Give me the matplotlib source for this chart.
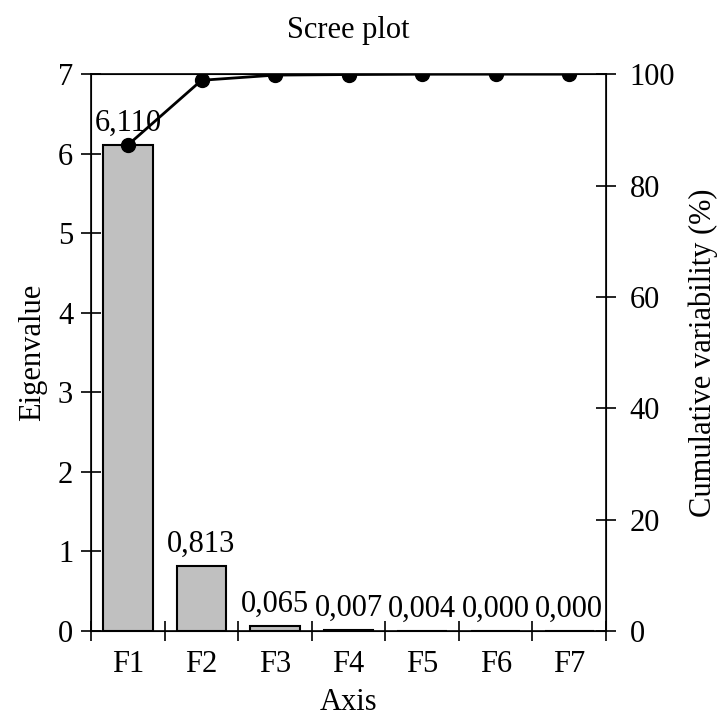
import matplotlib
matplotlib.use("Agg")
import matplotlib.pyplot as plt
import numpy as np

categories = ["F1", "F2", "F3", "F4", "F5", "F6", "F7"]
eigenvalues = [6.110, 0.813, 0.065, 0.007, 0.004, 0.000, 0.000]
cumulative = [87.29, 98.90, 99.83, 99.93, 99.99, 100.0, 100.0]

plt.rcParams['font.family'] = ['Liberation Serif', 'DejaVu Serif']
fs = 22

fig = plt.figure(figsize=(7.18, 7.2), dpi=100)
ax = fig.add_axes([0.127, 0.1236, 0.717, 0.7734])
x = np.arange(len(categories))
ax.bar(x, eigenvalues, width=0.67, color="#c0c0c0", edgecolor="black", linewidth=1.5, zorder=2)
for xi, v in zip(x, eigenvalues):
    ax.text(xi, v + 0.09, f"{v:.3f}".replace(".", ","), ha="center", va="bottom", fontsize=fs)
ax.set_xlim(-0.5, len(categories) - 0.5)
ax.set_ylim(0, 7)
ax.set_yticks(range(0, 8))
ax.set_xticks(x)
ax.set_xticklabels(categories)
ax.set_xticks(np.arange(-0.5, len(categories)), minor=True)
ax.tick_params(axis="x", which="major", length=0, labelsize=fs, pad=14)
ax.tick_params(axis="x", which="minor", direction="inout", length=14, width=1.2)
ax.tick_params(axis="y", direction="inout", length=14, width=1.2, labelsize=fs, pad=6)
ax.set_xlabel("Axis", fontsize=fs, labelpad=6)
ax.set_ylabel("Eigenvalue", fontsize=fs, labelpad=8)
ax.set_title("Scree plot", fontsize=fs, pad=26)
for s in ax.spines.values():
    s.set_linewidth(1.2)

ax2 = ax.twinx()
ax2.plot(x, cumulative, color="black", linewidth=2, marker="o", markersize=10, zorder=3)
ax2.set_ylim(0, 100)
ax2.set_yticks(range(0, 101, 20))
ax2.tick_params(axis="y", direction="inout", length=14, width=1.2, labelsize=fs, pad=10)
ax2.set_ylabel("Cumulative variability (%)", fontsize=fs, labelpad=10)

fig.savefig("out.png", dpi=100)
